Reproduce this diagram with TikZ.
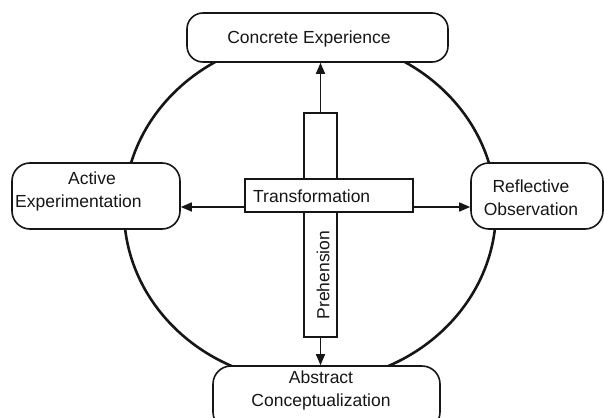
\documentclass[tikz,border=0pt]{standalone}
\usepackage{fontspec}
\setmainfont{Liberation Sans}
\usetikzlibrary{arrows.meta}
\definecolor{ink}{HTML}{161616}
\begin{document}
\begin{tikzpicture}[x=1pt,y=-1pt,
  box/.style={draw=ink, line width=1.6pt, rounded corners=16pt, fill=white, inner sep=0pt},
  bar/.style={draw=ink, line width=1.6pt, fill=white, inner sep=0pt},
  txt/.style={text=ink, font=\fontsize{17.5}{23}\selectfont, align=center, inner sep=0pt},
  arr/.style={draw=ink, line width=1.5pt, -{Triangle[length=11pt,width=9pt]}}]
\useasboundingbox (0,0) rectangle (604,417);
\clip (0,0) rectangle (604,417);
% cycle
\draw[ink, line width=2.6pt] (310,210) ellipse [x radius=186, y radius=172];
% boxes
\node[box, minimum width=261pt, minimum height=49pt] (ce) at (317.5,37.5) {};
\node[box, minimum width=168pt, minimum height=66pt, rounded corners=18pt] (ae) at (96,196) {};
\node[box, minimum width=132pt, minimum height=66pt, rounded corners=18pt] (ro) at (537,196) {};
\node[box, minimum width=227pt, minimum height=64pt, rounded corners=18pt] (ac) at (326.5,398) {};
% cross
\node[bar, minimum width=33pt, minimum height=224pt] (pre) at (320.5,225) {};
\node[bar, minimum width=168pt, minimum height=33pt] (tr) at (329,195.5) {};
% labels
\node[txt] (tce) at (309,39) {Concrete Experience};
\node[txt, align=left, anchor=west] (tae) at (15,191.5) {\hspace*{53pt}Active\\Experimentation};
\node[txt] (tro) at (531,197.5) {Reflective\\Observation};
\node[txt] (tac) at (321,390) {Abstract\\Conceptualization};
\node[txt, anchor=west] (ttr) at (253,196) {Transformation};
\node[txt, rotate=90] (tpre) at (323,275) {Prehension};
% arrows
\coordinate (tl) at ([yshift=-11.5pt]tr.west);
\coordinate (tre) at ([yshift=-11.5pt]tr.east);
\draw[arr] (pre.north) -- (pre.north |- ce.south);
\draw[arr] (pre.south) -- (pre.south |- ac.north);
\draw[arr] (tl) -- (tl -| ae.east);
\draw[arr] (tre) -- (tre -| ro.west);
\end{tikzpicture}
\end{document}
